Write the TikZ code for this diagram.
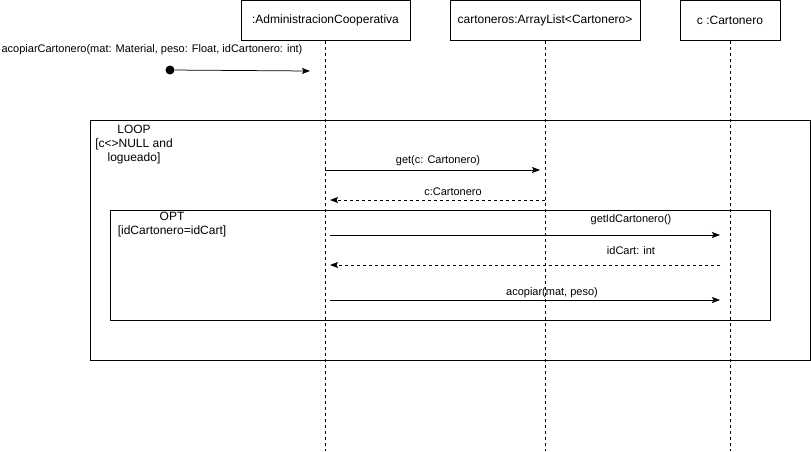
\documentclass[tikz,border=0pt]{standalone}
\usepackage{fontspec}
\setmainfont{Liberation Sans}
\usetikzlibrary{arrows.meta}
\begin{document}
\begin{tikzpicture}[x=1pt,y=-1pt,line width=0.75pt,
  font=\fontsize{11}{14}\selectfont,
  hdr/.style={draw,fill=white,minimum height=40pt,inner sep=0pt,font=\fontsize{12}{14}\selectfont},
  life/.style={dash pattern=on 3pt off 3pt},
  msg/.style={-{Stealth[length=8pt,width=6pt,inset=1.5pt]}},
  ret/.style={-{Stealth[length=8pt,width=6pt,inset=1.5pt]},dash pattern=on 3pt off 3pt},
  frame/.style={draw},
  lbl/.style={inner sep=0pt,anchor=base},
  ftxt/.style={inner sep=0pt,align=center,font=\fontsize{12}{14}\selectfont}]
\useasboundingbox (0,0) rectangle (811,451);
% headers
\node[hdr,minimum width=169pt] (adm) at (325.5,20.5) {:AdministracionCooperativa};
\node[hdr,minimum width=190pt] (arr) at (545,20.5) {cartoneros:ArrayList<Cartonero>};
\node[hdr,minimum width=100pt] (car) at (730,20.5) {c :Cartonero};
% lifelines
\coordinate (admEnd) at (adm.south |- 0,451);
\coordinate (arrEnd) at (arr.south |- 0,451);
\coordinate (carEnd) at (car.south |- 0,451);
\draw[life] (adm.south) -- (admEnd);
\draw[life] (arr.south) -- (arrEnd);
\draw[life] (car.south) -- (carEnd);
% frames
\draw[frame] (90,120) rectangle (810,360);
\draw[frame] (110,210) rectangle (770,320);
\node[ftxt] (looptxt) at (134,145) {LOOP\\{}{[}c<>NULL and\\logueado{]}};
\node[ftxt] (opttxt) at (172,225) {OPT\\{}{[}idCartonero=idCart{]}};
% initial message
\node[lbl] (inittxt) at (152,52) {acopiarCartonero(mat: Material, peso: Float, idCartonero: int)};
\node[circle,fill=black,inner sep=0pt,minimum size=9pt] (start) at (170,70) {};
\coordinate (m0e) at (310,71);
\draw[msg] (start) -- (m0e);
% get
\coordinate (m1s) at (325,170);
\coordinate (m1e) at (540,170);
\draw[msg] (m1s) -- (m1e);
\node[lbl] (m1t) at (438,163) {get(c: Cartonero)};
% return c
\coordinate (m2s) at (545,200);
\coordinate (m2e) at (330,200);
\draw[ret] (m2s) -- (m2e);
\node[lbl] (m2t) at (453,195) {c:Cartonero};
% getIdCartonero
\coordinate (m3s) at (330,235);
\coordinate (m3e) at (720,235);
\draw[msg] (m3s) -- (m3e);
\node[lbl] (m3t) at (631,222) {getIdCartonero()};
% idCart
\coordinate (m4s) at (720,265);
\coordinate (m4e) at (330,265);
\draw[ret] (m4s) -- (m4e);
\node[lbl] (m4t) at (631,254) {idCart: int};
% acopiar
\coordinate (m5s) at (330,300);
\coordinate (m5e) at (720,300);
\draw[msg] (m5s) -- (m5e);
\node[lbl] (m5t) at (552,295) {acopiar(mat, peso)};
\end{tikzpicture}
\end{document}
